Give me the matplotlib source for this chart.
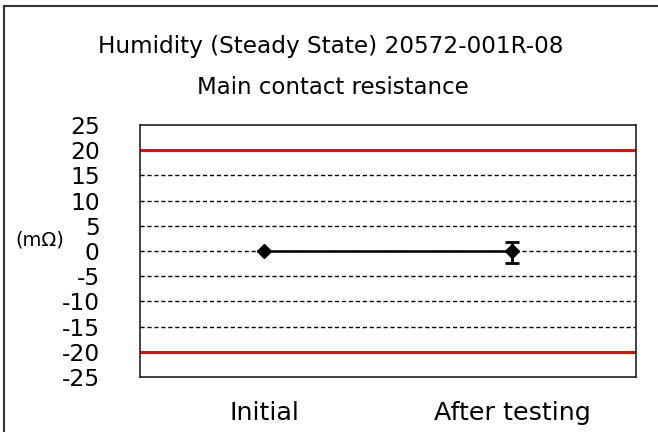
import numpy as np
import matplotlib
matplotlib.use("Agg")
import matplotlib.pyplot as plt
from matplotlib.lines import Line2D

plt.rcParams['font.family'] = ['DejaVu Sans']

# data
categories = ["Initial", "After testing"]
mean_vals = [0.0, 0.0]
max_vals = [0.0, 1.8]
min_vals = [0.0, -2.3]
limit_upper = 20
limit_lower = -20
y_ticks = [25, 20, 15, 10, 5, 0, -5, -10, -15, -20, -25]
title_1 = "Humidity (Steady State) 20572-001R-08"
title_2 = "Main contact resistance"
unit_label = "(mΩ)"

W, H = 658, 432
fig = plt.figure(figsize=(W / 100, H / 100), dpi=100)
ax = fig.add_axes([140 / W, 1 - 377 / H, (636 - 140) / W, (377 - 125) / H])

x = np.arange(len(categories)) + 0.5
ax.set_xlim(0, len(categories))
ax.set_ylim(-25, 25)

# grid: dashed black, limits red
for t in y_ticks:
    if t in (limit_upper, limit_lower) or abs(t) == 25:
        continue
    ax.axhline(t, color='black', lw=1.0, ls=(0, (3, 2)), zorder=1)
ax.axhline(limit_upper, color='#ff0000', lw=2.2, zorder=2)
ax.axhline(limit_lower, color='#ff0000', lw=2.2, zorder=2)

mean = np.array(mean_vals)
yerr = [mean - np.array(min_vals), np.array(max_vals) - mean]
ax.errorbar(x, mean, yerr=yerr, color='black', lw=1.8, marker='D', ms=7,
            capsize=5, capthick=2, elinewidth=2, zorder=3)

ax.set_yticks(y_ticks)
ax.set_yticklabels([str(t) for t in y_ticks], fontsize=16.8)
ax.set_xticks(x)
ax.set_xticklabels(categories, fontsize=18.3)
ax.tick_params(axis='y', length=0, pad=29)
ax.tick_params(axis='x', length=0, pad=17)
for s in ax.spines.values():
    s.set_linewidth(1.2)
    s.set_color('#222222')

fig.text(331 / W, 1 - 46 / H, title_1, ha='center', va='center', fontsize=16.7)
fig.text(333 / W, 1 - 88 / H, title_2, ha='center', va='center', fontsize=16.5)
fig.text(40 / W, 1 - 240 / H, unit_label, ha='center', va='center', fontsize=14)

# outer chart frame (clipped at right/bottom)
fig.add_artist(Line2D([4 / W, 4 / W], [0, 1 - 6 / H], color='#333333', lw=1.5,
                      transform=fig.transFigure))
fig.add_artist(Line2D([4 / W, 1], [1 - 6 / H, 1 - 6 / H], color='#333333', lw=1.5,
                      transform=fig.transFigure))

fig.savefig("out.png", dpi=100)
